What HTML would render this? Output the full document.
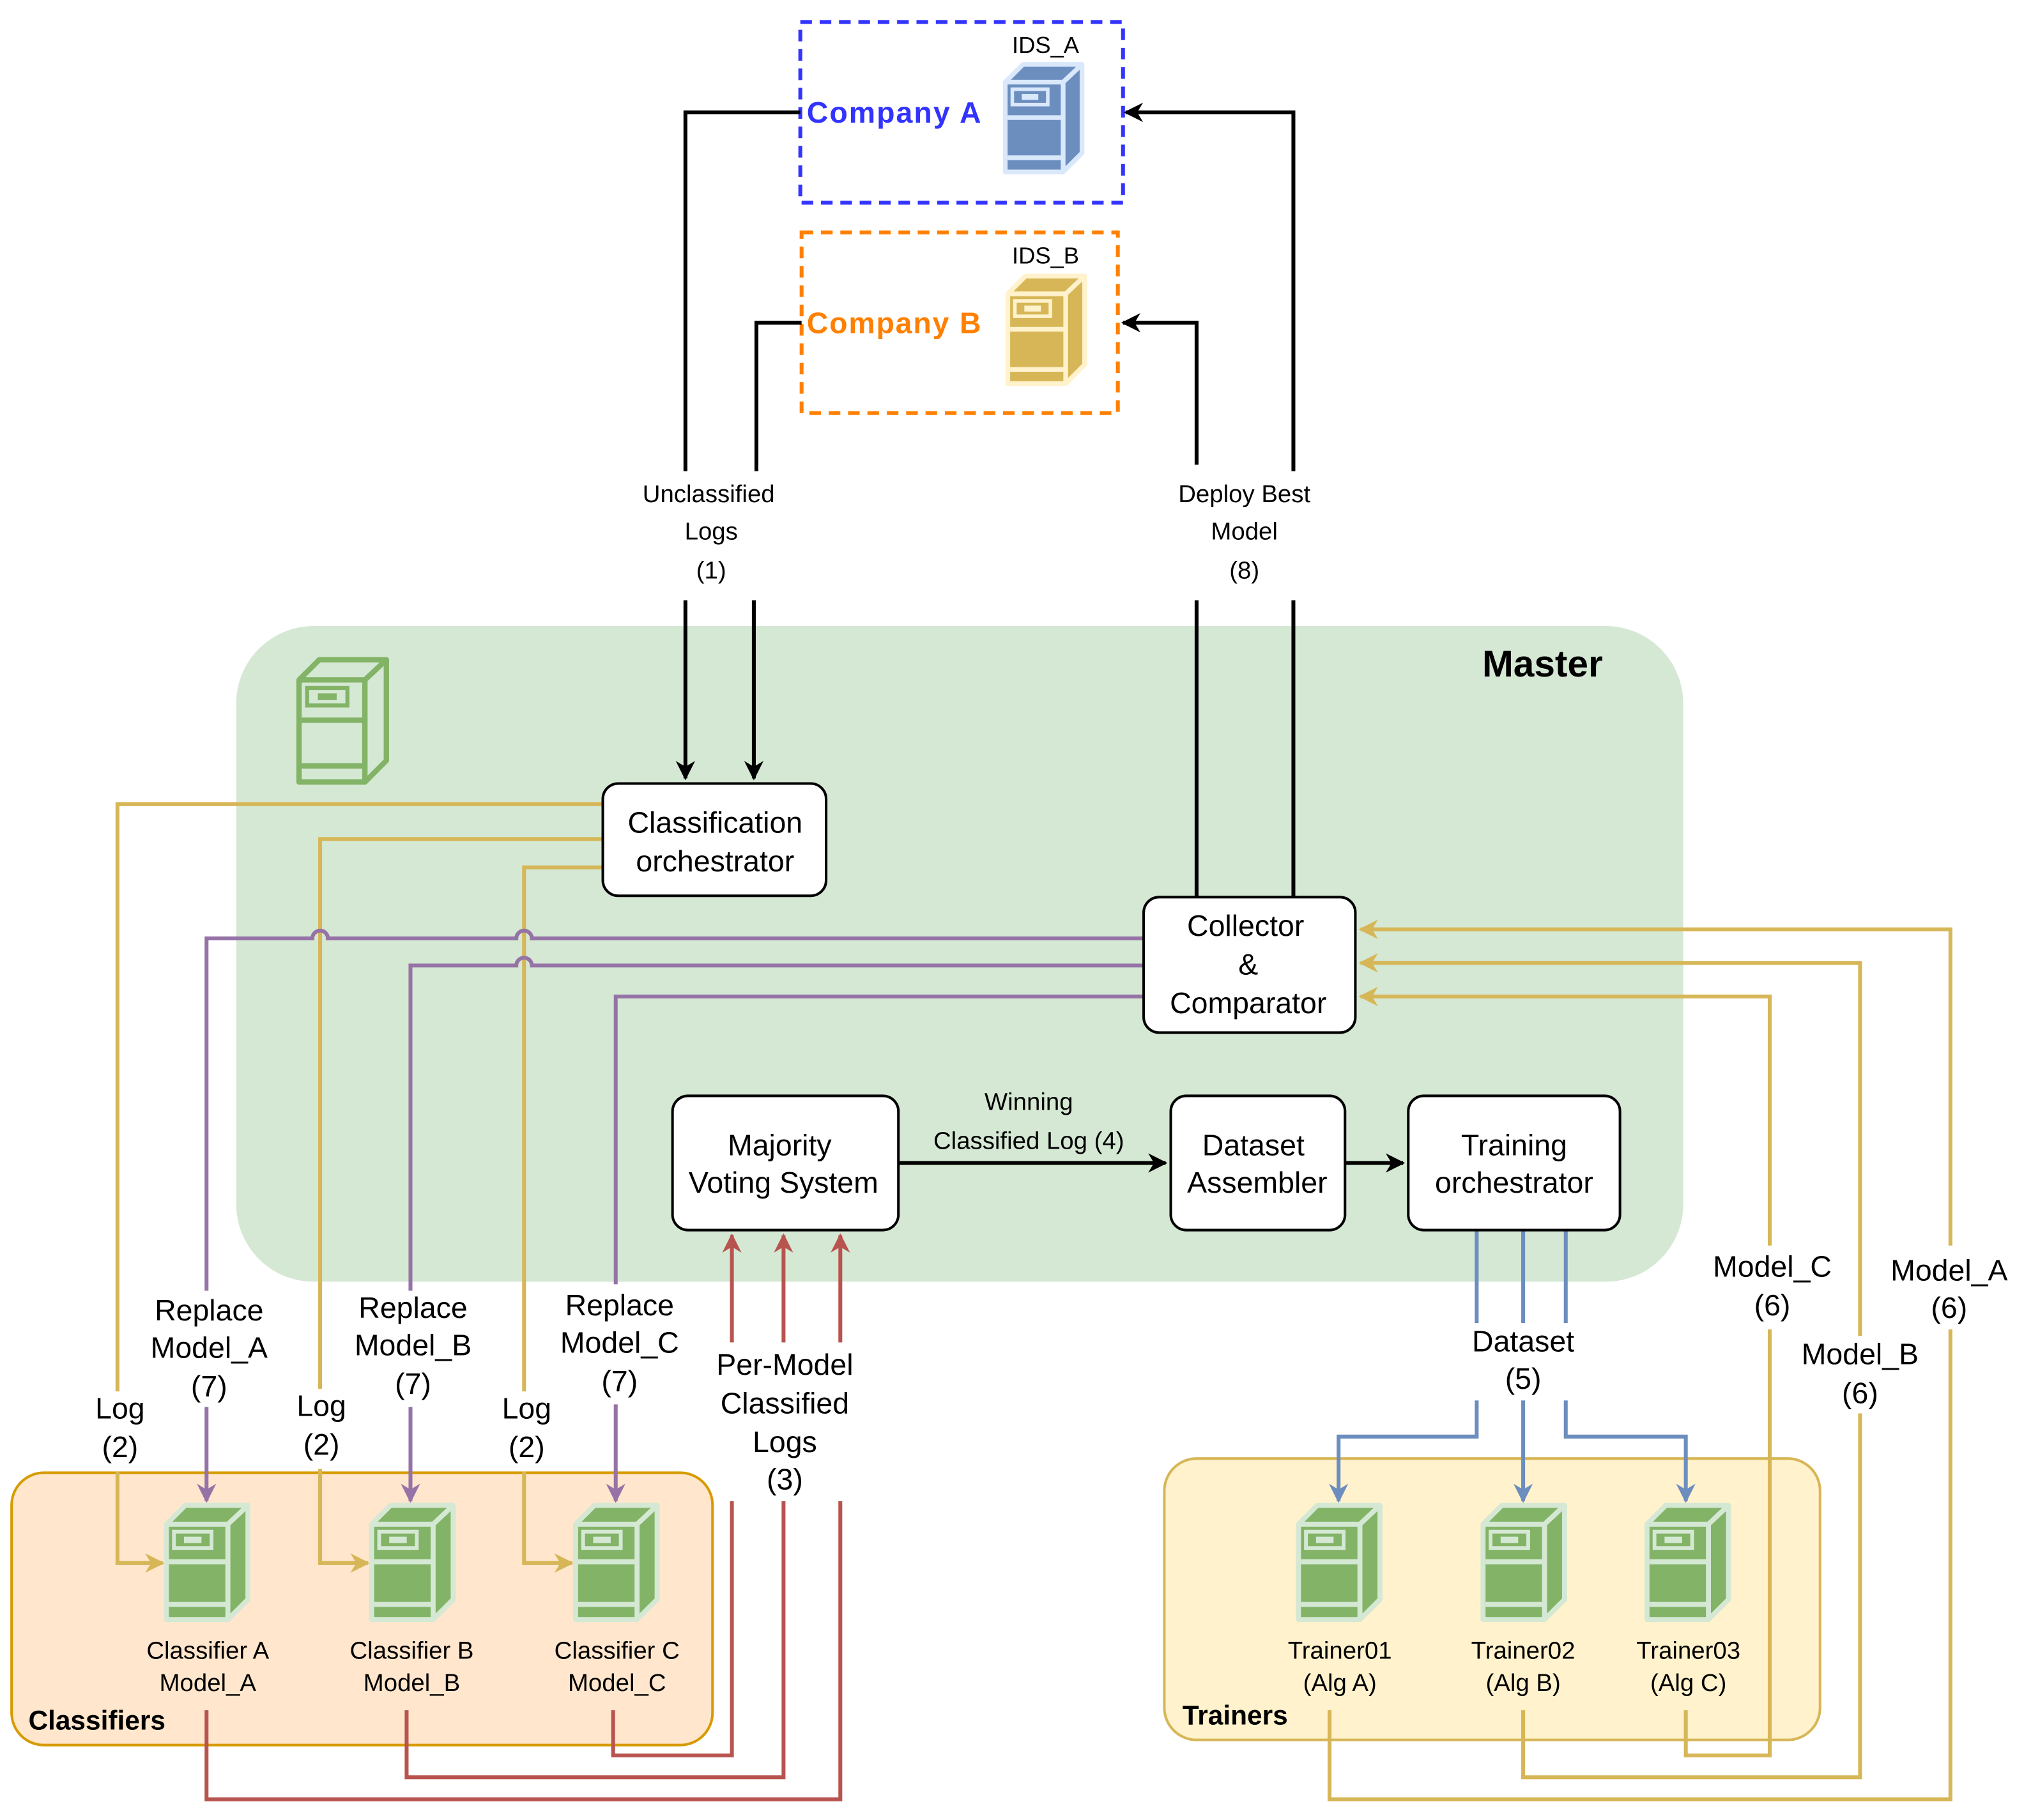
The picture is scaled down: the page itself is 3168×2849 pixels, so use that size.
<!DOCTYPE html>
<html><head><meta charset="utf-8"><style>
html,body{margin:0;padding:0;background:#fff}
svg{display:block}
text{font-family:"Liberation Sans",Arial,sans-serif}
</style></head><body>
<svg width="3168" height="2849" viewBox="0 0 1568 1410" xmlns="http://www.w3.org/2000/svg">
<defs>
<symbol id="srv" viewBox="-3 -3 71 97">
<path d="M0,15 L15,0 L65,0 L65,75 L49,91 L0,91 Z" fill="var(--f)" stroke="var(--s)" stroke-width="4" stroke-linejoin="round"/>
<path d="M0,15 L49,15 L65,0 M49,15 L49,91" fill="none" stroke="var(--s)" stroke-width="4"/>
<path d="M2,45 L49,45 M2,79 L49,79" stroke="var(--s)" stroke-width="4"/>
<rect x="6" y="21" width="30" height="13" fill="none" stroke="var(--s)" stroke-width="3"/>
<rect x="14" y="25" width="14" height="5" fill="var(--s)"/>
</symbol>
<marker id="ak" viewBox="0 0 10 10" refX="9" refY="5" markerWidth="5" markerHeight="5" orient="auto"><path d="M0,0 L10,5 L0,10 L3,5 Z" fill="#000"/></marker>
<marker id="ay" viewBox="0 0 10 10" refX="9" refY="5" markerWidth="5" markerHeight="5" orient="auto"><path d="M0,0 L10,5 L0,10 L3,5 Z" fill="#d6b656"/></marker>
<marker id="ap" viewBox="0 0 10 10" refX="9" refY="5" markerWidth="5" markerHeight="5" orient="auto"><path d="M0,0 L10,5 L0,10 L3,5 Z" fill="#9673a6"/></marker>
<marker id="ar" viewBox="0 0 10 10" refX="9" refY="5" markerWidth="5" markerHeight="5" orient="auto"><path d="M0,0 L10,5 L0,10 L3,5 Z" fill="#b85450"/></marker>
<marker id="ab" viewBox="0 0 10 10" refX="9" refY="5" markerWidth="5" markerHeight="5" orient="auto"><path d="M0,0 L10,5 L0,10 L3,5 Z" fill="#6c8ebf"/></marker>
</defs>

<rect x="183" y="485" width="1121" height="508" rx="60" fill="#d5e8d4"/>
<text x="1195" y="524" font-size="29" font-weight="bold" text-anchor="middle">Master</text>
<use href="#srv" x="228" y="508" width="75" height="101" style="--f:none;--s:#82b366"/>

<rect x="9" y="1141" width="543" height="211" rx="25" fill="#ffe6cc" stroke="#d79b00" stroke-width="2"/>
<text x="22" y="1340" font-size="21" font-weight="bold">Classifiers</text>
<rect x="902" y="1130" width="508" height="218" rx="25" fill="#fff2cc" stroke="#d6b656" stroke-width="2"/>
<text x="916" y="1336" font-size="21" font-weight="bold">Trainers</text>

<rect x="620" y="17" width="250" height="140" fill="none" stroke="#3333ff" stroke-width="3" stroke-dasharray="9,6"/>
<text x="625" y="95" font-size="23" font-weight="bold" fill="#3333ff" textLength="135">Company A</text>
<text x="810" y="41" font-size="18" text-anchor="middle">IDS_A</text>
<use href="#srv" x="776" y="46" width="65" height="91" style="--f:#6c8ebf;--s:#dae8fc"/>
<rect x="621" y="180" width="245" height="140" fill="none" stroke="#ff8000" stroke-width="3" stroke-dasharray="9,6"/>
<text x="625" y="258" font-size="23" font-weight="bold" fill="#ff8000" textLength="135">Company B</text>
<text x="810" y="204" font-size="18" text-anchor="middle">IDS_B</text>
<use href="#srv" x="778" y="210" width="65" height="91" style="--f:#d6b656;--s:#fff2cc"/>

<g fill="none" stroke-width="3">
<path d="M620,87 H531 V365 M531,465 V603" stroke="#000" marker-end="url(#ak)"/>
<path d="M621,250 H586 V365 M584,465 V603" stroke="#000" marker-end="url(#ak)"/>
<path d="M927,695 V465 M927,360 V250 H870" stroke="#000" marker-end="url(#ak)"/>
<path d="M1002,695 V465 M1002,365 V87 H872" stroke="#000" marker-end="url(#ak)"/>
<path d="M696,901 H903" stroke="#000" marker-end="url(#ak)"/>
<path d="M1042,901 H1087" stroke="#000" marker-end="url(#ak)"/>

<path d="M467,623 H91 V1078 M91,1140 V1211 H126" stroke="#d6b656" marker-end="url(#ay)"/>
<path d="M467,650 H248 V1076 M248,1138 V1211 H285" stroke="#d6b656" marker-end="url(#ay)"/>
<path d="M467,672 H406 V1078 M406,1140 V1211 H443" stroke="#d6b656" marker-end="url(#ay)"/>

<path d="M886,727 H412 A6,6 0 0 0 400,727 H254 A6,6 0 0 0 242,727 H160 V1000 M160,1090 V1163" stroke="#9673a6" marker-end="url(#ap)"/>
<path d="M886,748 H412 A6,6 0 0 0 400,748 H318 V1000 M318,1090 V1163" stroke="#9673a6" marker-end="url(#ap)"/>
<path d="M886,772 H477 V995 M477,1088 V1163" stroke="#9673a6" marker-end="url(#ap)"/>

<path d="M160,1325 V1394 H651 V1163 M651,1040 V957" stroke="#b85450" marker-end="url(#ar)"/>
<path d="M315,1325 V1377 H607 V1163 M607,1040 V957" stroke="#b85450" marker-end="url(#ar)"/>
<path d="M475,1325 V1360 H567 V1163 M567,1040 V957" stroke="#b85450" marker-end="url(#ar)"/>

<path d="M1144,953 V1025 M1144,1085 V1113 H1037 V1163" stroke="#6c8ebf" marker-end="url(#ab)"/>
<path d="M1180,953 V1025 M1180,1085 V1163" stroke="#6c8ebf" marker-end="url(#ab)"/>
<path d="M1213,953 V1025 M1213,1085 V1113 H1306 V1163" stroke="#6c8ebf" marker-end="url(#ab)"/>

<path d="M1030,1325 V1394 H1511 V1030 M1511,965 V720 H1054" stroke="#d6b656" marker-end="url(#ay)"/>
<path d="M1180,1325 V1377 H1441 V1095 M1441,1035 V746 H1054" stroke="#d6b656" marker-end="url(#ay)"/>
<path d="M1306,1325 V1360 H1371 V1030 M1371,965 V772 H1054" stroke="#d6b656" marker-end="url(#ay)"/>
</g>

<g fill="#fff" stroke="#000" stroke-width="2">
<rect x="467" y="607" width="173" height="87" rx="12"/>
<rect x="886" y="695" width="164" height="105" rx="12"/>
<rect x="521" y="849" width="175" height="104" rx="12"/>
<rect x="907" y="849" width="135" height="104" rx="12"/>
<rect x="1091" y="849" width="164" height="104" rx="12"/>
</g>
<g font-size="23" text-anchor="middle">
<text x="554" y="645">Classification</text><text x="554" y="675">orchestrator</text>
<text x="965" y="725">Collector</text><text x="967" y="755">&amp;</text><text x="967" y="785">Comparator</text>
<text x="604" y="895">Majority</text><text x="607" y="924">Voting System</text>
<text x="971" y="895">Dataset</text><text x="974" y="924">Assembler</text>
<text x="1173" y="895">Training</text><text x="1173" y="924">orchestrator</text>
</g>

<g style="--f:#82b366;--s:#d5e8d4">
<use href="#srv" x="126" y="1163" width="69" height="95"/>
<use href="#srv" x="285" y="1163" width="69" height="95"/>
<use href="#srv" x="443" y="1163" width="69" height="95"/>
<use href="#srv" x="1003" y="1163" width="69" height="95"/>
<use href="#srv" x="1146" y="1163" width="69" height="95"/>
<use href="#srv" x="1273" y="1163" width="69" height="95"/>
</g>

<g font-size="19" text-anchor="middle">
<text x="549" y="389">Unclassified</text><text x="551" y="418">Logs</text><text x="551" y="448">(1)</text>
<text x="964" y="389">Deploy Best</text><text x="964" y="418">Model</text><text x="964" y="448">(8)</text>
<text x="797" y="860">Winning</text><text x="797" y="890">Classified Log (4)</text>
<text x="161" y="1285">Classifier A</text><text x="161" y="1310">Model_A</text>
<text x="319" y="1285">Classifier B</text><text x="319" y="1310">Model_B</text>
<text x="478" y="1285">Classifier C</text><text x="478" y="1310">Model_C</text>
<text x="1038" y="1285">Trainer01</text><text x="1038" y="1310">(Alg A)</text>
<text x="1180" y="1285">Trainer02</text><text x="1180" y="1310">(Alg B)</text>
<text x="1308" y="1285">Trainer03</text><text x="1308" y="1310">(Alg C)</text>
</g>
<g font-size="23" text-anchor="middle">
<text x="93" y="1099">Log</text><text x="93" y="1129">(2)</text>
<text x="249" y="1097">Log</text><text x="249" y="1127">(2)</text>
<text x="408" y="1099">Log</text><text x="408" y="1129">(2)</text>
<text x="162" y="1023">Replace</text><text x="162" y="1052">Model_A</text><text x="162" y="1082">(7)</text>
<text x="320" y="1021">Replace</text><text x="320" y="1050">Model_B</text><text x="320" y="1080">(7)</text>
<text x="480" y="1019">Replace</text><text x="480" y="1048">Model_C</text><text x="480" y="1078">(7)</text>
<text x="608" y="1065">Per-Model</text><text x="608" y="1095">Classified</text><text x="608" y="1125">Logs</text><text x="608" y="1154">(3)</text>
<text x="1180" y="1047">Dataset</text><text x="1180" y="1076">(5)</text>
<text x="1373" y="989">Model_C</text><text x="1373" y="1019">(6)</text>
<text x="1441" y="1057">Model_B</text><text x="1441" y="1087">(6)</text>
<text x="1510" y="992">Model_A</text><text x="1510" y="1021">(6)</text>
</g>
</svg>
</body></html>
